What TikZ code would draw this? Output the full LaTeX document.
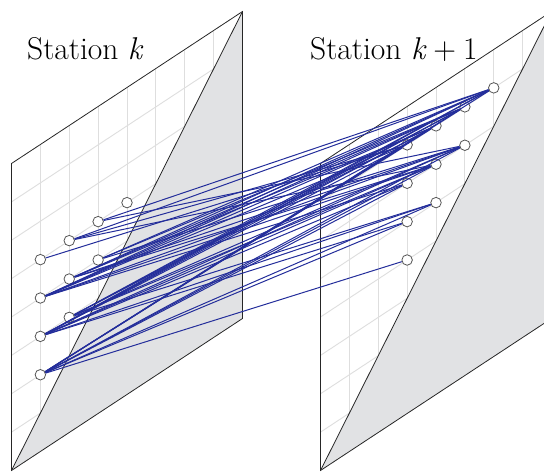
\documentclass[tikz,border=0pt]{standalone}
\usepackage{fontspec}
\definecolor{trk}{RGB}{36,46,155}
\definecolor{shade}{RGB}{225,226,228}
\definecolor{gridc}{RGB}{222,222,222}
\definecolor{hitc}{RGB}{85,85,85}
\tikzset{
  gridline/.style={draw=gridc, line width=0.9pt},
  frame/.style={draw=black!85, line width=0.8pt},
  shadetri/.style={fill=shade},
  hit/.style={circle, draw=hitc, fill=white, line width=0.8pt, inner sep=0pt, minimum size=10.5pt},
  conn/.style={draw=trk, line width=1pt},
  title/.style={anchor=base west, inner sep=0pt, font=\fontsize{31.5}{38}\selectfont}
}
\begin{document}
\begin{tikzpicture}[x=1pt, y=-1pt]
\useasboundingbox (0,0) rectangle (544,473);
\clip (0,0) rectangle (544,473);
% left panel
\begin{scope}[shift={(11.5,470.5)}, x={(28.875pt,19pt)}, y={(0pt,38.375pt)}]
  \fill[white] (0,0) -- (0,8) -- (8,8) -- (8,0) -- cycle;
  \foreach \i in {1,...,7} {
    \draw[gridline] (\i,0) -- (\i,8);
    \draw[gridline] (0,\i) -- (8,\i);
  }
  \fill[shadetri] (0,0) -- (8,8) -- (8,0) -- cycle;
  \draw[frame] (0,0) -- (0,8) -- (8,8) -- (8,0) -- cycle;
  \draw[frame] (0,0) -- (8,8);
  \foreach \a/\b in {1/2,1/3,1/4,1/5,2/3,2/4,2/5,3/4,3/5,4/5}
    \node[hit] (L\a\b) at (\a,\b) {};
\end{scope}
% right panel
\begin{scope}[shift={(320.5,470.5)}, x={(28.875pt,19pt)}, y={(0pt,38.375pt)}]
  \fill[white] (0,0) -- (0,8) -- (8,8) -- (8,0) -- cycle;
  \foreach \i in {1,...,7} {
    \draw[gridline] (\i,0) -- (\i,8);
    \draw[gridline] (0,\i) -- (8,\i);
  }
  \fill[shadetri] (0,0) -- (8,8) -- (8,0) -- cycle;
  \draw[frame] (0,0) -- (0,8) -- (8,8) -- (8,0) -- cycle;
  \draw[frame] (0,0) -- (8,8);
  \foreach \c/\d in {3/4,3/5,3/6,3/7,4/5,4/6,4/7,5/6,5/7,6/7}
    \node[hit] (R\c\d) at (\c,\d) {};
\end{scope}
% connections
\foreach \a/\b in {1/2,1/3,1/4,2/3,2/4,3/4}
  \foreach \c/\d in {3/4,3/5,3/6,3/7,4/5,4/6,4/7,5/6,5/7,6/7} {
    \pgfmathtruncatemacro\ok{((\c>=\a+2)&&(\d>=\b+2))?1:0}
    \ifnum\ok=1 \draw[conn] (L\a\b) -- (R\c\d); \fi
  }
\foreach \p/\q in {15/37, 25/37, 25/46, 25/67, 35/56, 35/67}
  \draw[conn] (L\p) -- (R\q);
% labels
\node[title] (tk) at (27,60) {Station \textit{k}};
\node[title] (tk1) at (310,60) {Station \textit{k}\kern0.22em+\kern0.22em1};
\end{tikzpicture}
\end{document}
